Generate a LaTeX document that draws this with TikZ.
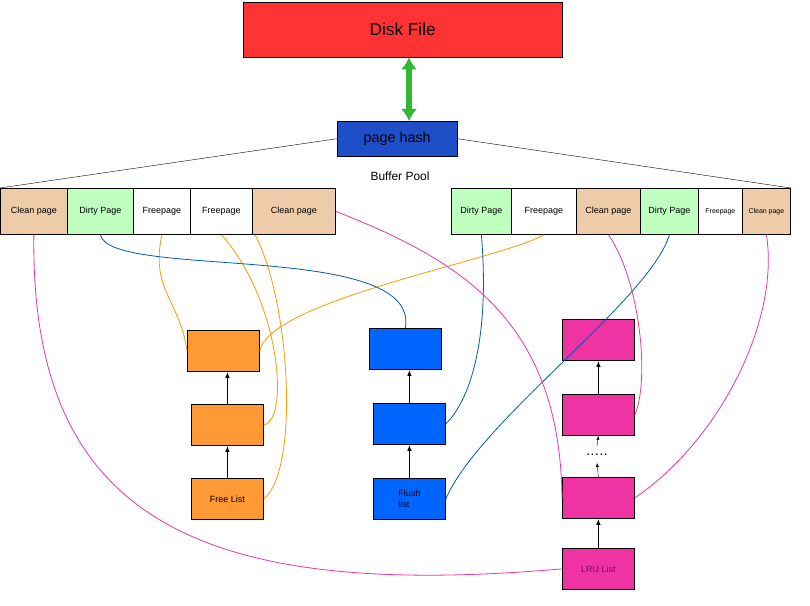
\documentclass[tikz,border=0pt]{standalone}
\usepackage{fontspec}
\setmainfont{Liberation Sans}
\usetikzlibrary{arrows.meta}
\definecolor{phblue}{HTML}{1E4FC8}
\begin{document}
\begin{tikzpicture}[x=1bp,y=-1bp,
 cell/.style={draw,thick,minimum height=46bp,inner sep=0,anchor=north west,font=\small},
 cl/.style={cell,fill=orange!35!brown!40},
 dp/.style={cell,fill=green!25},
 fp/.style={cell,fill=white},
 bx/.style={draw,thick,anchor=north west,minimum width=72bp,minimum height=41bp,inner sep=0,font=\small},
 up/.style={-{Latex[length=6bp]},very thick},
 oc/.style={orange!80!yellow,thick},
 bc/.style={blue!50!cyan!70!black,thick},
 pc/.style={magenta!80,thick}]
\useasboundingbox (0,0) rectangle (810,606);
\node[draw,fill=red!80,anchor=north west,minimum width=319bp,minimum height=55bp,font=\LARGE] (disk) at (243,2) {Disk File};
\node[draw,fill=phblue,anchor=north west,minimum width=120bp,minimum height=35bp,font=\Large] (ph) at (337,121) {page hash};
\draw[{Latex[length=12bp,width=16bp]}-{Latex[length=12bp,width=16bp]},line width=6bp,green!65!black!80] (disk.south -| 409,0) -- (ph.north -| 409,0);
\node[font=\large] (bp) at (400,176) {Buffer Pool};
% left row
\node[cl,minimum width=67bp] (c1) at (0,188) {Clean page};
\node[dp,minimum width=66bp] (d1) at (67,188) {Dirty Page};
\node[fp,minimum width=57bp] (f1) at (133,188) {Freepage};
\node[fp,minimum width=62bp] (f2) at (190,188) {Freepage};
\node[cl,minimum width=83bp] (c2) at (252,188) {Clean page};
% right row
\node[dp,minimum width=60bp] (d2) at (451,188) {Dirty Page};
\node[fp,minimum width=65bp] (f3) at (511,188) {Freepage};
\node[cl,minimum width=64bp] (c3) at (576,188) {Clean page};
\node[dp,minimum width=58bp] (d3) at (640,188) {Dirty Page};
\node[fp,minimum width=44bp,font=\scriptsize] (f4) at (698,188) {Freepage};
\node[cl,minimum width=48bp,font=\scriptsize] (c4) at (742,188) {Clean page};
\draw (ph.west) -- (c1.north west);
\draw (ph.east) -- (c4.north east);
% lists
\node[bx,fill=orange!80] (o1) at (187,330) {};
\node[bx,fill=orange!80] (o2) at (191,404) {};
\node[bx,fill=orange!80] (o3) at (191,478) {Free List};
\node[bx,fill=blue!60!cyan] (b1) at (369,328) {};
\node[bx,fill=blue!60!cyan] (b2) at (373,403) {};
\node[bx,fill=blue!60!cyan,align=left] (b3) at (373,478) {Flush\\list};
\node[bx,fill=magenta!80] (m1) at (562,319) {};
\node[bx,fill=magenta!80] (m2) at (562,394) {};
\node[bx,fill=magenta!80] (m3) at (562,477) {};
\node[bx,fill=magenta!80,text=violet] (m4) at (562,548) {LRU List};
\draw[up] (o3.north) -- (o2.south);
\draw[up] (o2.north) -- (o1.south -| o2.north);
\draw[up] (b3.north) -- (b2.south);
\draw[up] (b2.north) -- (b1.south -| b2.north);
\draw[up] (m4.north) -- (m3.south);
\draw[up] (m2.north) -- (m1.south);
\coordinate (dt) at (597,463);
\coordinate (db) at (597,446);
\draw[-{Latex[length=4bp]}] (m3.north) -- (dt);
\draw[-{Latex[length=4bp]}] (db) -- (m2.south);
\node at (597,455) {\textbf{.\,.\,.\,.\,.}};
% orange curves
\draw[oc] (f1.south) .. controls (150,290) and (180,300) .. (o1.west);
\draw[oc] (f2.south) .. controls (280,300) and (290,420) .. (o2.east);
\draw[oc] (f3.south) .. controls (500,260) and (270,300) .. (o1.east);
\draw[oc] (f2.south -| 255,0) .. controls (290,300) and (300,470) .. (o3.east);
% blue curves
\draw[bc] (d1.south) .. controls (110,280) and (420,240) .. (b1.north);
\draw[bc] (d2.south) .. controls (490,340) and (470,400) .. (b2.east);
\draw[bc] (d3.south) .. controls (650,300) and (480,420) .. (b3.east);
% pink curves
\draw[pc] (c1.south) .. controls (30,520) and (200,600) .. (m4.west);
\draw[pc] (c2.east) .. controls (460,260) and (560,320) .. (m3.west);
\draw[pc] (c3.south) .. controls (640,280) and (650,380) .. (m2.east);
\draw[pc] (c4.south) .. controls (780,320) and (720,440) .. (m3.east);
\end{tikzpicture}
\end{document}
